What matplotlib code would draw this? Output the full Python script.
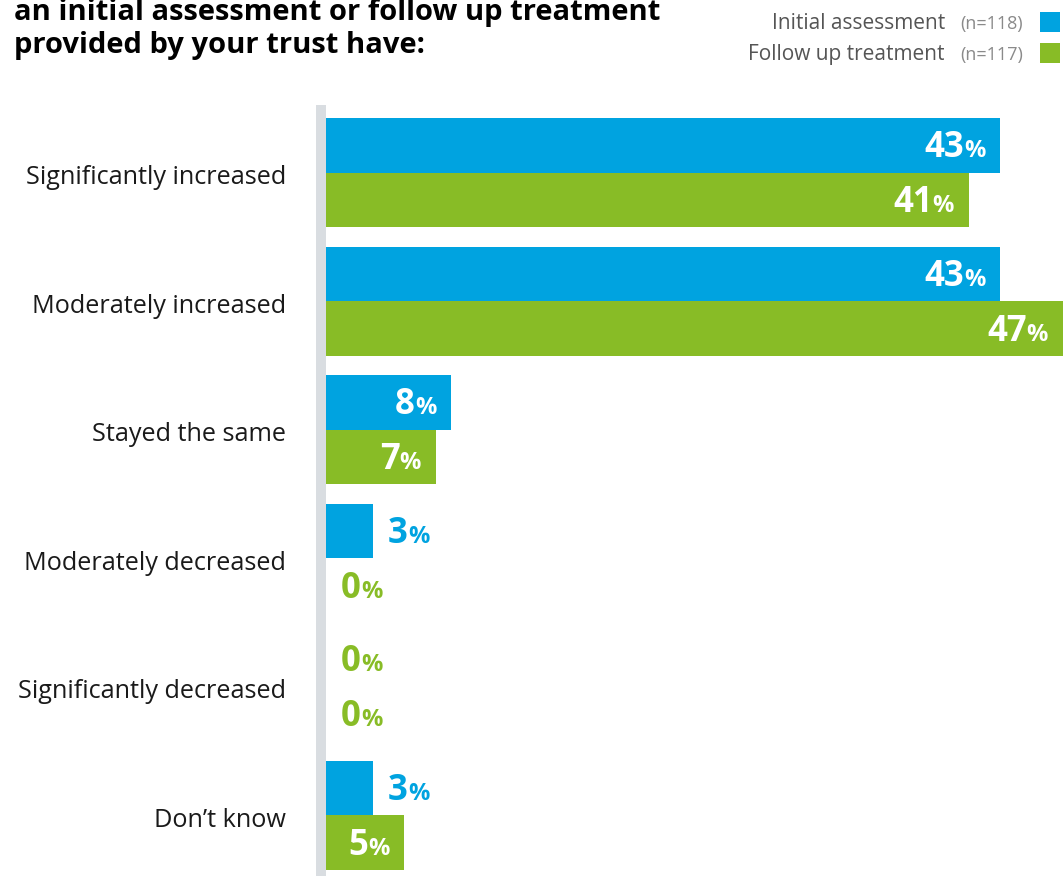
import matplotlib.pyplot as plt
from matplotlib.patches import Rectangle
from matplotlib.transforms import offset_copy

categories = ['Significantly increased', 'Moderately increased', 'Stayed the same',
              'Moderately decreased', 'Significantly decreased', "Don\u2019t know"]
initial = [43, 43, 8, 3, 0, 3]
follow_up = [41, 47, 7, 0, 0, 5]
series_names = ['Initial assessment', 'Follow up treatment']
series_n = ['(n=118)', '(n=117)']

BLUE = '#00a3e0'
GREEN = '#88bc26'
W, H = 1063, 876
DPI = 100

plt.rcParams['font.family'] = ['Open Sans', 'DejaVu Sans']

fig = plt.figure(figsize=(W / DPI, H / DPI), dpi=DPI)
# axes placed in pixel coordinates
left, right, top, bottom = 326, 1063, 118, 870
ax = fig.add_axes([left / W, 1 - bottom / H, (right - left) / W, (bottom - top) / H])

bh = 0.426
ys = list(range(len(categories)))
ax.barh([y - bh / 2 for y in ys], initial, height=bh, color=BLUE, linewidth=0)
ax.barh([y + bh / 2 for y in ys], follow_up, height=bh, color=GREEN, linewidth=0)
ax.set_xlim(0, 47)
ax.set_ylim(len(categories) - 1 + bh, -bh)
ax.axis('off')

# grey axis strip
fig.add_artist(Rectangle((316 / W, 0), 10 / W, (H - 105) / H,
                         transform=fig.transFigure, color='#d9dde1', lw=0))

px = 72 / DPI
t_cat = offset_copy(ax.transData, fig=fig, x=-40 * px, y=-2 * px, units='points')
for y, cat in zip(ys, categories):
    ax.text(0, y, cat, transform=t_cat, ha='right', va='center_baseline',
            fontsize=18.2, color='#1a1a1a')

fig.canvas.draw()
renderer = fig.canvas.get_renderer()

NUM_SIZE, PCT_SIZE = 25, 17
DROP = -12 * px


def value_label(x, y, val, color, inside):
    if inside:
        t_pct = offset_copy(ax.transData, fig=fig, x=-15 * px, y=DROP, units='points')
        pct = ax.text(x, y, '%', transform=t_pct, ha='right', va='baseline',
                      fontsize=PCT_SIZE, fontweight='bold', color=color)
        w = pct.get_window_extent(renderer).width
        t_num = offset_copy(ax.transData, fig=fig, x=(-15 - w) * px, y=DROP, units='points')
        ax.text(x, y, str(val), transform=t_num, ha='right', va='baseline',
                fontsize=NUM_SIZE, fontweight='bold', color=color)
    else:
        t_num = offset_copy(ax.transData, fig=fig, x=15 * px, y=DROP, units='points')
        num = ax.text(x, y, str(val), transform=t_num, ha='left', va='baseline',
                      fontsize=NUM_SIZE, fontweight='bold', color=color)
        w = num.get_window_extent(renderer).width
        t_pct = offset_copy(ax.transData, fig=fig, x=(15 + w) * px, y=DROP, units='points')
        ax.text(x, y, '%', transform=t_pct, ha='left', va='baseline',
                fontsize=PCT_SIZE, fontweight='bold', color=color)


for y, a, b in zip(ys, initial, follow_up):
    for val, yc, col in ((a, y - bh / 2, BLUE), (b, y + bh / 2, GREEN)):
        if val >= 5:
            value_label(val, yc, val, 'white', True)
        else:
            value_label(val, yc, val, GREEN if val == 0 else col, False)

# title
fig.text(14 / W, 1 - 20 / H, 'an initial assessment or follow up treatment',
         ha='left', va='baseline', fontsize=21, fontweight='bold', color='black')
fig.text(14 / W, 1 - 53 / H, 'provided by your trust have:',
         ha='left', va='baseline', fontsize=21, fontweight='bold', color='black')

# legend
for i, (name, n, col) in enumerate(zip(series_names, series_n, [BLUE, GREEN])):
    yb = 29 + 31 * i
    fig.text(1023 / W, 1 - yb / H, n, ha='right', va='baseline', fontsize=13,
             color='#8a8a8a')
    fig.text(945 / W, 1 - yb / H, name, ha='right', va='baseline', fontsize=15,
             color='#555555')
    fig.add_artist(Rectangle((1040 / W, 1 - (yb + 3) / H), 20 / W, 20 / H,
                             transform=fig.transFigure, color=col, lw=0))

fig.savefig('out.png', dpi=DPI)
